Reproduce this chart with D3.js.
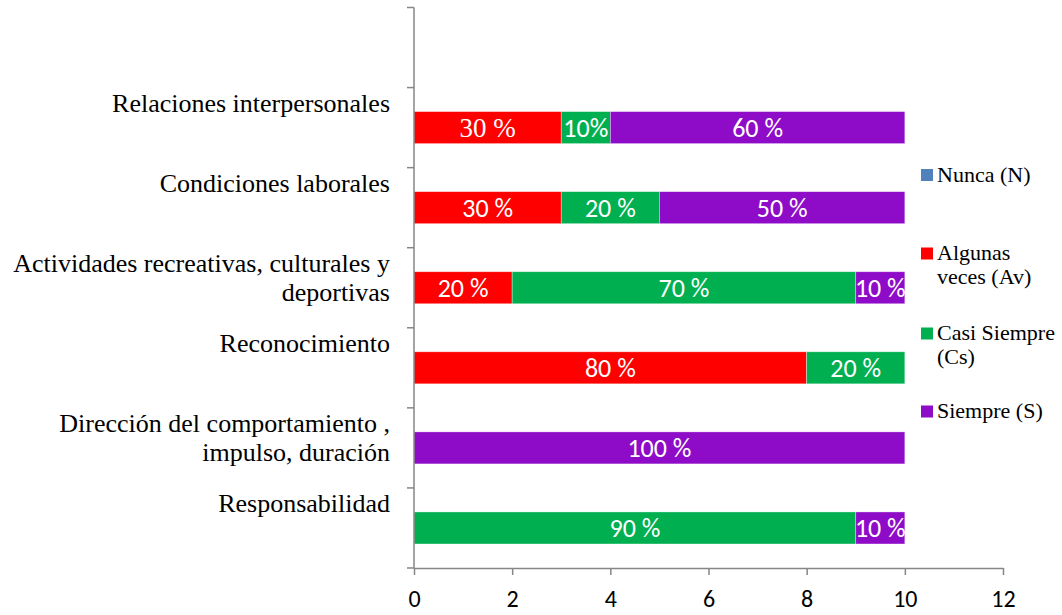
<!DOCTYPE html>
<html>
<head>
<meta charset="utf-8">
<script src="https://cdn.jsdelivr.net/npm/d3@7/dist/d3.min.js"></script>
<style>
  body { margin: 0; background: #fff; }
  svg { display: block; }
</style>
</head>
<body>
<svg id="chart" width="1062" height="615"></svg>
<script>
// Categories, top to bottom (first band left empty)
const categories = [
  "",
  "Relaciones interpersonales",
  "Condiciones laborales",
  "Actividades recreativas, culturales y|deportivas",
  "Reconocimiento",
  "Dirección del comportamiento ,| impulso, duración",
  "Responsabilidad"
];
const seriesNames = ["Nunca (N)", "Algunas veces (Av)", "Casi Siempre (Cs)", "Siempre (S)"];
const legendLines = [["Nunca (N)"], ["Algunas", "veces (Av)"], ["Casi Siempre", "(Cs)"], ["Siempre (S)"]];
const seriesColors = ["#4f81bd", "#ff0000", "#00b050", "#8e0cc8"];

// Values per series, aligned with categories
const nunca        = [0, 0, 0, 0, 0, 0, 0];
const algunasVeces = [0, 3, 3, 2, 8, 0, 0];
const casiSiempre  = [0, 1, 2, 7, 2, 0, 9];
const siempre      = [0, 6, 5, 1, 0, 10, 1];

// Data label texts, aligned with categories
const labelsNunca   = ["", "", "", "", "", "", ""];
const labelsAlgunas = ["", "30 %", "30 %", "20 %", "80 %", "", ""];
const labelsCasi    = ["", "10%", "20 %", "70 %", "20 %", "", "90 %"];
const labelsSiempre = ["", "60 %", "50 %", "10 %", "", "100 %", "10 %"];

const xTicks = [0, 2, 4, 6, 8, 10, 12];

const seriesValues = [nunca, algunasVeces, casiSiempre, siempre];
const seriesLabels = [labelsNunca, labelsAlgunas, labelsCasi, labelsSiempre];

const SERIF = '"Liberation Serif", "Times New Roman", serif';
const SANS = 'Carlito, Lato, "Open Sans", sans-serif';

const svg = d3.select("#chart");
const plot = { left: 414, right: 1003, top: 7.5, bottom: 568 };

const x = d3.scaleLinear().domain([0, 12]).range([plot.left, plot.right]);
const y = d3.scaleBand().domain(d3.range(categories.length))
  .range([plot.top, plot.bottom]).paddingInner(0.6).paddingOuter(0.3);
const yBands = d3.scaleBand().domain(d3.range(categories.length))
  .range([plot.top, plot.bottom]);

// Stack the series
const rows = categories.map((c, i) => {
  const r = { idx: i };
  seriesValues.forEach((s, k) => r["s" + k] = s[i]);
  return r;
});
const stack = d3.stack().keys(seriesNames.map((_, k) => "s" + k));
const stacked = stack(rows);

const axisColor = "#868686";

// Bars with their value labels
stacked.forEach((layer, k) => {
  const g = svg.append("g");
  layer.forEach((d, i) => {
    const w = x(d[1]) - x(d[0]);
    if (w <= 0) return;
    g.append("rect")
      .attr("x", x(d[0]))
      .attr("y", y(i))
      .attr("width", w)
      .attr("height", y.bandwidth())
      .attr("fill", seriesColors[k])
      .attr("stroke", "rgba(255,255,255,0.5)")
      .attr("stroke-width", 0.7);
    const txt = seriesLabels[k][i];
    if (txt) {
      const serif = (k === 1 && i === 1);
      g.append("text")
        .attr("x", (x(d[0]) + x(d[1])) / 2)
        .attr("y", y(i) + y.bandwidth() / 2)
        .attr("dy", "0.36em")
        .attr("text-anchor", "middle")
        .attr("fill", "#fff")
        .style("font-family", serif ? SERIF : SANS)
        .style("font-size", serif ? "27px" : "26px")
        .text(txt);
    }
  });
});

// Y axis (category boundaries as ticks)
const yAxisG = svg.append("g");
yAxisG.append("line")
  .attr("x1", plot.left).attr("x2", plot.left)
  .attr("y1", plot.top).attr("y2", plot.bottom)
  .attr("stroke", axisColor).attr("stroke-width", 1.5);
d3.range(categories.length + 1).forEach(i => {
  const yy = i < categories.length ? yBands(i) : plot.bottom;
  yAxisG.append("line")
    .attr("x1", plot.left - 7).attr("x2", plot.left)
    .attr("y1", yy).attr("y2", yy)
    .attr("stroke", axisColor).attr("stroke-width", 1.5);
});

// Category labels
categories.forEach((c, i) => {
  if (!c) return;
  const lines = c.split("|");
  const cy = yBands(i) + yBands.bandwidth() / 2 - 25;
  const t = svg.append("text")
    .attr("text-anchor", "end")
    .style("font-family", SERIF)
    .style("font-size", "26px")
    .attr("fill", "#000");
  lines.forEach((ln, j) => {
    t.append("tspan")
      .attr("x", 390)
      .attr("y", cy + j * 29.5)
      .attr("dy", "0.35em")
      .style("white-space", "pre")
      .text(ln);
  });
});

// X axis
const xAxis = d3.axisBottom(x).tickValues(xTicks).tickSize(7).tickSizeOuter(0);
const xg = svg.append("g").attr("transform", `translate(0,${plot.bottom})`).call(xAxis);
xg.attr("font-family", null).attr("font-size", null);
xg.select(".domain").attr("stroke", axisColor).attr("stroke-width", 1.5);
xg.selectAll(".tick line").attr("stroke", axisColor).attr("stroke-width", 1.5);
xg.selectAll(".tick text")
  .attr("y", 39)
  .attr("dy", 0)
  .attr("fill", "#000")
  .style("font-family", SANS)
  .style("font-size", "24px");

// Legend
const legendBaseline = [181.5, 260, 340, 418];
const lg = svg.append("g");
legendLines.forEach((lines, k) => {
  lg.append("rect")
    .attr("x", 921).attr("y", legendBaseline[k] - 12.5)
    .attr("width", 12).attr("height", 12)
    .attr("fill", seriesColors[k]);
  const t = lg.append("text")
    .style("font-family", SERIF)
    .style("font-size", "22px")
    .attr("fill", "#000");
  lines.forEach((ln, j) => {
    t.append("tspan").attr("x", 937).attr("y", legendBaseline[k] + j * 23.5).text(ln);
  });
});
</script>
</body>
</html>
